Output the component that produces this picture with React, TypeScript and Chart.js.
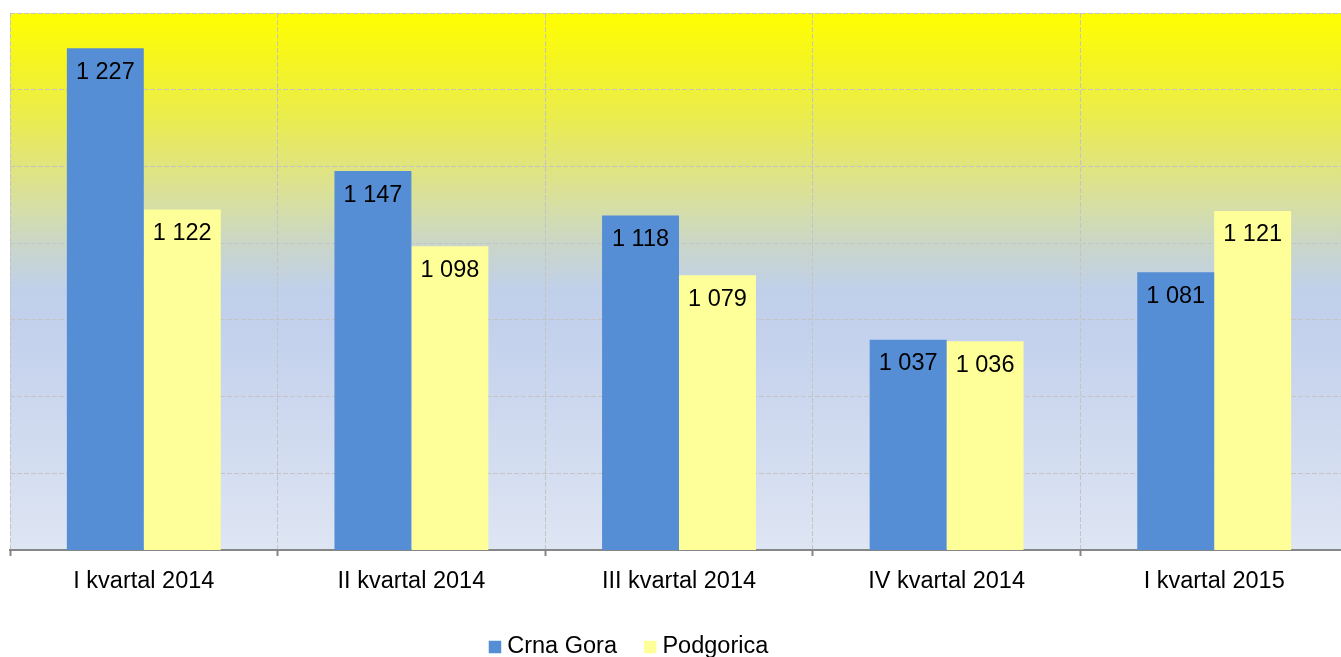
import React, { useEffect, useRef } from "react";
import { Chart, registerables } from "chart.js";

Chart.register(...registerables);

const categories = ["I kvartal 2014", "II kvartal 2014", "III kvartal 2014", "IV kvartal 2014", "I kvartal 2015"];
const crnaGora = [1227, 1147, 1118, 1037, 1081];
const podgorica = [1122, 1098, 1079, 1036, 1121];
const seriesNames = ["Crna Gora", "Podgorica"];
const seriesColors = ["#558ED5", "#FFFF99"];
const yMin = 900;
const yMax = 1250;
const yStep = 50;

const FONT = "'Liberation Sans', Arial, sans-serif";

const fmt = (v: number) => {
  const s = String(v);
  return s.length > 3 ? s.slice(0, s.length - 3) + " " + s.slice(-3) : s;
};

const bgPlugin = {
  id: "bgGradient",
  beforeDraw(chart: any) {
    const { ctx, chartArea } = chart;
    if (!chartArea) return;
    const g = ctx.createLinearGradient(0, chartArea.top, 0, chartArea.bottom);
    g.addColorStop(0, "#FFFF00");
    g.addColorStop(0.0875, "#F5F520");
    g.addColorStop(0.2, "#EAEC50");
    g.addColorStop(0.287, "#E0E47E");
    g.addColorStop(0.367, "#D5DEA8");
    g.addColorStop(0.43, "#CAD6C8");
    g.addColorStop(0.516, "#C0D0EA");
    g.addColorStop(0.57, "#C2D0EC");
    g.addColorStop(1, "#DEE5F3");
    ctx.save();
    ctx.fillStyle = g;
    ctx.fillRect(chartArea.left, chartArea.top, chartArea.right - chartArea.left, chartArea.bottom - chartArea.top);
    ctx.restore();
  },
};

const labelPlugin = {
  id: "barLabels",
  afterDatasetsDraw(chart: any) {
    const { ctx } = chart;
    ctx.save();
    ctx.font = `23.5px ${FONT}`;
    ctx.fillStyle = "#000000";
    ctx.textAlign = "center";
    ctx.textBaseline = "middle";
    chart.data.datasets.forEach((ds: any, i: number) => {
      const meta = chart.getDatasetMeta(i);
      meta.data.forEach((el: any, j: number) => {
        ctx.fillText(fmt(ds.data[j]), el.x, el.y + 24);
      });
    });
    ctx.restore();
  },
};

const legendPlugin = {
  id: "customLegend",
  afterDraw(chart: any) {
    const { ctx } = chart;
    ctx.save();
    ctx.font = `23.5px ${FONT}`;
    const box = 12.5;
    const gapBoxText = 6;
    const gapItems = 27;
    const widths = seriesNames.map((n) => ctx.measureText(n).width);
    const total = widths.reduce((a, w) => a + box + gapBoxText + w, 0) + gapItems * (seriesNames.length - 1);
    const centerX = 620.5;
    const cy = 639;
    let x = centerX - total / 2;
    seriesNames.forEach((n, i) => {
      ctx.fillStyle = seriesColors[i];
      ctx.fillRect(x, cy - box / 2, box, box);
      x += box + gapBoxText;
      ctx.fillStyle = "#000000";
      ctx.textAlign = "left";
      ctx.textBaseline = "middle";
      ctx.fillText(n, x, cy);
      x += widths[i] + gapItems;
    });
    ctx.restore();
  },
};

export default function App() {
  const ref = useRef<HTMLCanvasElement | null>(null);
  useEffect(() => {
    document.documentElement.style.overflow = "hidden";
    document.body.style.margin = "0";
    if (!ref.current) return;
    const chart = new Chart(ref.current, {
      type: "bar",
      data: {
        labels: categories,
        datasets: [
          { label: seriesNames[0], data: crnaGora, backgroundColor: seriesColors[0] },
          { label: seriesNames[1], data: podgorica, backgroundColor: seriesColors[1] },
        ],
      },
      options: {
        animation: false,
        responsive: false,
        layout: { padding: { top: 5, left: 2, right: 0, bottom: 78 } },
        plugins: {
          legend: { display: false },
          tooltip: { enabled: false },
        },
        datasets: {
          bar: { barPercentage: 1, categoryPercentage: 0.575 },
        },
        scales: {
          x: {
            offset: true,
            grid: {
              offset: true,
              color: "#C4C4C4",
              lineWidth: 1,
              drawTicks: true,
              tickLength: 6,
              tickColor: "#868686",
              tickBorderDash: [],
              tickWidth: 2,
            },
            border: { display: true, color: "#868686", width: 2, dash: [5, 2] },
            ticks: {
              color: "#000000",
              font: { size: 23.5, family: FONT },
              padding: 11,
              maxRotation: 0,
            },
            afterFit: (s: any) => {
              s.height = 40;
            },
          },
          y: {
            min: yMin,
            max: yMax,
            ticks: { display: false, stepSize: yStep },
            grid: { color: "#C4C4C4", drawTicks: false, lineWidth: 1 },
            border: { display: false, dash: [5, 2] },
            afterFit: (s: any) => {
              s.width = 0;
            },
          },
        },
      },
      plugins: [bgPlugin, labelPlugin, legendPlugin],
    } as any);
    return () => chart.destroy();
  }, []);
  return (
    <div style={{ width: "1341px", height: "657px", overflow: "hidden", position: "relative", background: "#FFFFFF" }}>
      <canvas
        ref={ref}
        width={1340}
        height={660}
        style={{ position: "absolute", left: "8px", top: "8px", width: "1340px", height: "660px", display: "block" }}
      />
    </div>
  );
}
